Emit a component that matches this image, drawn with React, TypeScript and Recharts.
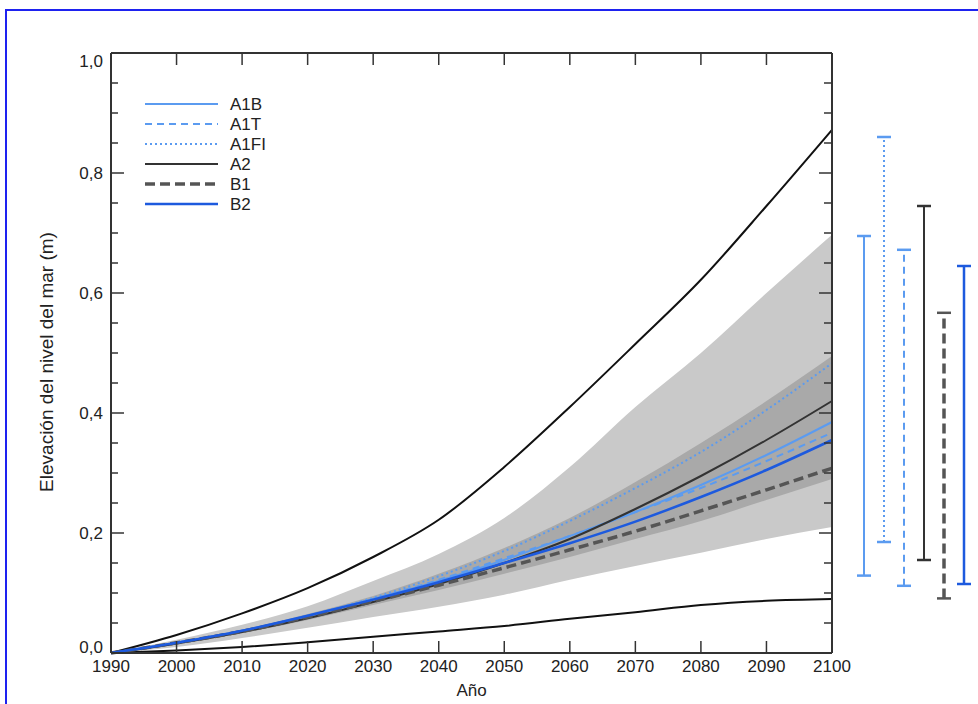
import React from 'react'
import { ComposedChart, Line, Area, XAxis, YAxis, Legend } from 'recharts'

const FONT = '"Liberation Sans", Arial, Helvetica, sans-serif'

// years on the x axis (also used as tick marks)
const YEARS = [1990, 2000, 2010, 2020, 2030, 2040, 2050, 2060, 2070, 2080, 2090, 2100]

// scenario curves (m)
const A1B = [0, 0.017, 0.037, 0.062, 0.09, 0.12, 0.155, 0.195, 0.235, 0.28, 0.33, 0.385]
const A1T = [0, 0.017, 0.037, 0.062, 0.09, 0.122, 0.158, 0.195, 0.235, 0.275, 0.32, 0.367]
const A1FI = [0, 0.017, 0.037, 0.062, 0.092, 0.128, 0.17, 0.22, 0.275, 0.335, 0.405, 0.483]
const A2 = [0, 0.016, 0.035, 0.058, 0.085, 0.115, 0.15, 0.19, 0.24, 0.295, 0.355, 0.42]
const B1 = [0, 0.017, 0.036, 0.06, 0.086, 0.113, 0.142, 0.172, 0.203, 0.237, 0.272, 0.308]
const B2 = [0, 0.017, 0.037, 0.062, 0.089, 0.118, 0.15, 0.183, 0.219, 0.26, 0.305, 0.355]

// outer envelope lines
const ENVELOPE_HIGH = [0, 0.03, 0.066, 0.108, 0.16, 0.222, 0.31, 0.41, 0.515, 0.622, 0.745, 0.872]
const ENVELOPE_LOW = [0, 0.004, 0.01, 0.018, 0.027, 0.036, 0.045, 0.057, 0.068, 0.08, 0.087, 0.09]

// shaded ranges
const LIGHT_LOW = [0, 0.01, 0.025, 0.042, 0.06, 0.077, 0.097, 0.122, 0.145, 0.167, 0.19, 0.21]
const LIGHT_HIGH = [0, 0.022, 0.047, 0.078, 0.12, 0.165, 0.225, 0.31, 0.41, 0.5, 0.6, 0.697]
const DARK_LOW = [0, 0.015, 0.033, 0.055, 0.08, 0.105, 0.132, 0.16, 0.19, 0.22, 0.255, 0.29]
const DARK_HIGH = [0, 0.018, 0.039, 0.065, 0.095, 0.132, 0.175, 0.225, 0.285, 0.35, 0.42, 0.495]

// y ticks every 0.05, labelled every 0.2
const Y_TICKS = [0, 0.05, 0.1, 0.15, 0.2, 0.25, 0.3, 0.35, 0.4, 0.45, 0.5, 0.55, 0.6, 0.65, 0.7, 0.75, 0.8, 0.85, 0.9, 0.95, 1.0]

// 2100 range bars at the right, left to right
const BAR_NAMES = ['A1B', 'A1FI', 'A1T', 'A2', 'B1', 'B2']
const BAR_LOW = [0.129, 0.185, 0.112, 0.155, 0.091, 0.115]
const BAR_HIGH = [0.695, 0.86, 0.672, 0.745, 0.567, 0.645]

const LIGHT_BLUE = '#5b9bf0'
const STYLES: Record<string, { color: string; width: number; dash?: string }> = {
  A1B: { color: LIGHT_BLUE, width: 2 },
  A1T: { color: LIGHT_BLUE, width: 2, dash: '7 5' },
  A1FI: { color: LIGHT_BLUE, width: 2, dash: '2 3' },
  A2: { color: '#333', width: 2 },
  B1: { color: '#555', width: 3.5, dash: '10 5' },
  B2: { color: '#1d5ade', width: 2.5 },
}
const LEGEND_ORDER = ['A1B', 'A1T', 'A1FI', 'A2', 'B1', 'B2']
const CAP = 0.35

const CHART_W = 860
const MARGIN = { top: 53, right: 28, bottom: 0, left: 51 }
const PLOT_RIGHT = CHART_W - MARGIN.right
const PLOT_TOP = MARGIN.top
const Y_MARGIN = 8
const X_MARGIN = 7

const rows = YEARS.map((year, i) => ({
  year,
  A1B: A1B[i],
  A1T: A1T[i],
  A1FI: A1FI[i],
  A2: A2[i],
  B1: B1[i],
  B2: B2[i],
  high: ENVELOPE_HIGH[i],
  low: ENVELOPE_LOW[i],
  light: [LIGHT_LOW[i], LIGHT_HIGH[i]],
  dark: [DARK_LOW[i], DARK_HIGH[i]],
}))

function LegendBox() {
  return (
    <svg width={140} height={125}>
      {LEGEND_ORDER.map((name, i) => {
        const s = STYLES[name]
        return (
          <g key={name} transform={`translate(0, ${10 + i * 20})`}>
            <line x1={5} x2={78} y1={0} y2={0} stroke={s.color} strokeWidth={s.width} strokeDasharray={s.dash} />
            <text x={90} y={0} dy="0.36em" fontSize={17} fill="#222" fontFamily={FONT}>
              {name}
            </text>
          </g>
        )
      })}
    </svg>
  )
}

const axisStroke = '#333'

// y tick: inward marks on both frame sides, label on multiples of 0.2
// (end labels nudged off the corners like the original)
function YTick(props: any) {
  const { x, y, payload } = props
  const v = payload.value as number
  const major = Math.round(v * 100) % 20 === 0
  const ax = x + Y_MARGIN
  const shift = v === 0 ? -6 : v === 1 ? 8 : 0
  return (
    <g>
      <line x1={ax} x2={ax + (major ? 13 : 7)} y1={y} y2={y} stroke={axisStroke} strokeWidth={1.5} />
      <line x1={PLOT_RIGHT} x2={PLOT_RIGHT - (major ? 13 : 8)} y1={y} y2={y} stroke={axisStroke} strokeWidth={1.5} />
      {major && (
        <text x={x} y={y + shift} dy="0.36em" textAnchor="end" fontSize={17} fill="#222" fontFamily={FONT}>
          {v.toFixed(1).replace('.', ',')}
        </text>
      )}
    </g>
  )
}

// x tick: inward marks at bottom and top, year label below
function XTick(props: any) {
  const { x, y, payload } = props
  const ay = y - X_MARGIN
  return (
    <g>
      <line x1={x} x2={x} y1={ay} y2={ay - 12} stroke={axisStroke} strokeWidth={1.5} />
      <line x1={x} x2={x} y1={PLOT_TOP} y2={PLOT_TOP + 12} stroke={axisStroke} strokeWidth={1.5} />
      <text x={x} y={y} dy="0.71em" textAnchor="middle" fontSize={17} fill="#222" fontFamily={FONT}>
        {payload.value}
      </text>
    </g>
  )
}

const NoLabel = () => <g />

export default function App() {
  return (
    <div style={{ position: 'absolute', left: 0, top: 0, width: 978, height: 704, overflow: 'hidden', background: '#fff' }}>
      <div
        style={{
          position: 'absolute',
          left: 5,
          top: 9,
          width: 1000,
          height: 800,
          border: '2px solid #1e22f0',
          boxSizing: 'border-box',
        }}
      />
      <div style={{ position: 'absolute', left: 0, top: 0 }}>
        <ComposedChart width={CHART_W} height={704} data={rows} margin={MARGIN}>
          <XAxis
            xAxisId="top"
            orientation="top"
            dataKey="year"
            type="number"
            domain={[1990, 2100]}
            ticks={[1990]}
            height={1}
            mirror
            tickLine={false}
            tick={NoLabel}
            stroke={axisStroke}
            strokeWidth={2}
          />
          <YAxis
            yAxisId="right"
            orientation="right"
            type="number"
            domain={[0, 1]}
            ticks={[0]}
            width={1}
            mirror
            tickLine={false}
            tick={NoLabel}
            stroke={axisStroke}
            strokeWidth={2}
          />
          <XAxis
            xAxisId="bottom"
            dataKey="year"
            type="number"
            domain={[1990, 2100]}
            ticks={YEARS}
            interval={0}
            height={51}
            stroke={axisStroke}
            strokeWidth={2}
            tickLine={false}
            tickSize={0}
            tickMargin={X_MARGIN}
            tick={<XTick />}
            label={{ value: 'Año', position: 'insideBottom', offset: 8, fontSize: 17, fill: '#222', fontFamily: FONT }}
          />
          <YAxis
            yAxisId="left"
            type="number"
            domain={[0, 1]}
            ticks={Y_TICKS}
            interval={0}
            width={60}
            stroke={axisStroke}
            strokeWidth={2}
            tickLine={false}
            tickSize={0}
            tickMargin={Y_MARGIN}
            tick={<YTick />}
            label={{
              content: () => (
                <text x={53} y={362} transform="rotate(-90 53 362)" textAnchor="middle" fontSize={19} fill="#222" fontFamily={FONT}>
                  Elevación del nivel del mar (m)
                </text>
              ),
            }}
          />
          <Legend
            layout="vertical"
            align="center"
            verticalAlign="middle"
            wrapperStyle={{ left: 140, top: 94, width: 140, height: 125 }}
            content={() => <LegendBox />}
          />
          <Area xAxisId="bottom" yAxisId="left" dataKey="light" type="monotone" stroke="none" fill="#c9c9c9" fillOpacity={1} isAnimationActive={false} legendType="none" />
          <Area xAxisId="bottom" yAxisId="left" dataKey="dark" type="monotone" stroke="none" fill="#a9a9a9" fillOpacity={1} isAnimationActive={false} legendType="none" />
          <Line xAxisId="bottom" yAxisId="left" dataKey="high" type="monotone" stroke="#111" strokeWidth={2} dot={false} isAnimationActive={false} legendType="none" />
          <Line xAxisId="bottom" yAxisId="left" dataKey="low" type="monotone" stroke="#111" strokeWidth={2} dot={false} isAnimationActive={false} legendType="none" />
          {['A1FI', 'A1T', 'A1B', 'A2', 'B1', 'B2'].map((name) => (
            <Line
              key={name}
              xAxisId="bottom"
              yAxisId="left"
              dataKey={name}
              name={name}
              type="monotone"
              stroke={STYLES[name].color}
              strokeWidth={STYLES[name].width}
              strokeDasharray={STYLES[name].dash}
              dot={false}
              isAnimationActive={false}
            />
          ))}
        </ComposedChart>
      </div>
      <div style={{ position: 'absolute', left: 854, top: 0 }}>
        <ComposedChart width={120} height={704} margin={{ top: 53, right: 0, bottom: 51, left: 0 }}>
          <XAxis type="number" dataKey="x" domain={[-0.5, 5.5]} allowDataOverflow hide />
          <YAxis type="number" dataKey="y" domain={[0, 1]} allowDataOverflow hide />
          {BAR_NAMES.map((name, i) => {
            const s = STYLES[name]
            return (
              <React.Fragment key={name}>
                <Line
                  data={[{ x: i, y: BAR_LOW[i] }, { x: i, y: BAR_HIGH[i] }]}
                  dataKey="y"
                  type="linear"
                  stroke={s.color}
                  strokeWidth={s.width}
                  strokeDasharray={s.dash}
                  dot={false}
                  isAnimationActive={false}
                />
                <Line
                  data={[{ x: i - CAP, y: BAR_HIGH[i] }, { x: i + CAP, y: BAR_HIGH[i] }]}
                  dataKey="y"
                  type="linear"
                  stroke={s.color}
                  strokeWidth={2.5}
                  dot={false}
                  isAnimationActive={false}
                />
                <Line
                  data={[{ x: i - CAP, y: BAR_LOW[i] }, { x: i + CAP, y: BAR_LOW[i] }]}
                  dataKey="y"
                  type="linear"
                  stroke={s.color}
                  strokeWidth={2.5}
                  dot={false}
                  isAnimationActive={false}
                />
              </React.Fragment>
            )
          })}
        </ComposedChart>
      </div>
    </div>
  )
}
